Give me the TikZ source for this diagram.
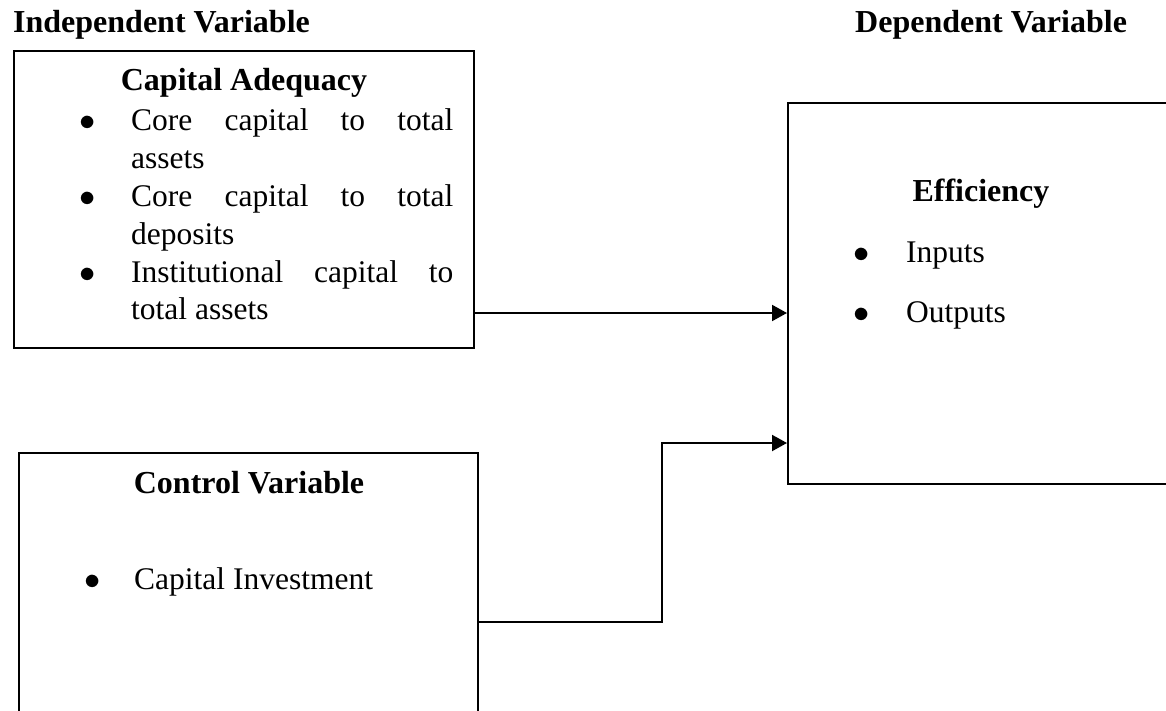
\documentclass[tikz,border=0pt]{standalone}
\usepackage{fontspec}
\setmainfont{Liberation Serif}
\usetikzlibrary{arrows.meta,positioning}
\newcommand\bitem[2][52pt]{\par\noindent\hangindent=#1\hangafter=1\makebox[#1][l]{\scalebox{1.3}{$\bullet$}}#2}

\begin{document}
\fontsize{31.5pt}{37.8pt}\selectfont
\begin{tikzpicture}[
    x=1pt, y=-1pt,
    box/.style={draw, line width=2pt, inner sep=0pt},
    conn/.style={line width=2pt, -{Triangle[length=15pt,width=16pt]}},
    head/.style={font=\fontsize{32pt}{38pt}\selectfont\bfseries, inner sep=0pt, anchor=base},
    list/.style={inner sep=0pt, anchor=base west}
]
\clip (0,0) rectangle (1166,711);

% headings
\node[head, anchor=base west] (indep) at (13,33) {Independent Variable};
\node[head, anchor=base west] (dep) at (855,33) {Dependent Variable};

% independent variable
\node[box, minimum width=460pt, minimum height=297pt] (cap) at (244,199.5) {};
\node[head] (captitle) at (244,91) {Capital Adequacy};
\node[list] (caplist) at (79,131) {\parbox[t]{374pt}{%
  \bitem{Core capital to total\linebreak assets}
  \bitem{Core capital to total\linebreak deposits}
  \bitem{Institutional capital to\linebreak total assets}}};

% dependent variable
\node[box, minimum width=386pt, minimum height=381pt] (eff) at (981,293.5) {};
\node[head] (efftitle) at (981,202) {Efficiency};
\node[list] (efflist) at (853,262) {\parbox[t]{250pt}{%
  \baselineskip=60pt
  \bitem[53pt]{Inputs}
  \bitem[53pt]{Outputs}}};

% control variable
\node[box, minimum width=459.5pt, minimum height=317pt] (ctrl) at (248.25,611.5) {};
\node[head] (ctrltitle) at (249,493) {Control Variable};
\node[list] (ctrllist) at (84,589) {\parbox[t]{300pt}{%
  \bitem[50pt]{Capital Investment}}};

% connectors
\coordinate (a1) at ([yshift=36pt]cap.south east);
\coordinate (a2) at ([yshift=-170pt]ctrl.north east);
\coordinate (b2) at ([yshift=42pt]eff.south west);
\draw[conn] (a1) -- (a1 -| eff.west);
\draw[conn] (a2) -| ([xshift=-125pt]b2) -- (b2);
\end{tikzpicture}
\end{document}
